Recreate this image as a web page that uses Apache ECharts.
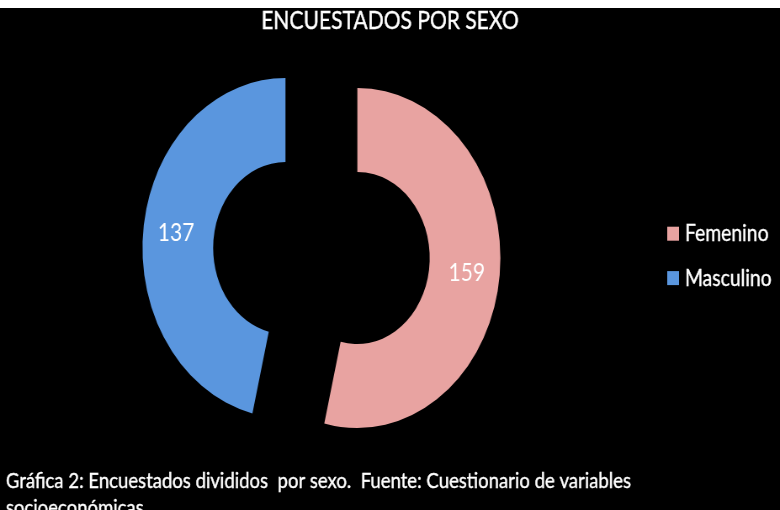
<!DOCTYPE html>
<html>
<head>
<meta charset="utf-8">
<script src="https://cdn.jsdelivr.net/npm/echarts@6/dist/echarts.min.js"></script>
<style>
  html, body { margin: 0; padding: 0; background: #ffffff; }
  #wrap { position: relative; width: 780px; height: 510px; overflow: hidden; background: #ffffff; }
  /* the chart is laid out wide and then narrowed, giving the condensed look */
  #chart { position: absolute; left: 0; top: 0; width: 927px; height: 510px;
           transform: scaleX(0.8414); transform-origin: 0 0; }
</style>
</head>
<body>
<div id="wrap"><div id="chart"></div></div>
<script>
// Respondents by sex
const categories = ['Femenino', 'Masculino'];
const counts = [159, 137];
const sliceColors = ['#E8A3A1', '#5A96DE'];

const titleText = 'ENCUESTADOS POR SEXO';
const captionText = 'Gráfica 2: Encuestados divididos  por sexo.  Fuente: Cuestionario de variables\nsocioeconómicas';

const FONT = 'Lato, "Open Sans", sans-serif';

const chart = echarts.init(document.getElementById('chart'), null, { renderer: 'canvas' });

chart.setOption({
  backgroundColor: 'transparent',
  animation: false,
  graphic: [
    { type: 'rect', z: -10, silent: true,
      shape: { x: 0, y: 8, width: 927, height: 502 },
      style: { fill: '#000000' } }
  ],
  title: [
    { text: titleText, left: 'center', top: 3,
      textStyle: { color: '#ffffff', fontFamily: FONT, fontSize: 25, fontWeight: 'normal',
                   textBorderColor: '#ffffff', textBorderWidth: 0.4 } },
    { text: captionText, left: 2, top: 462,
      textStyle: { color: '#ffffff', fontFamily: FONT, fontSize: 22, fontWeight: 'normal', lineHeight: 27,
                   textBorderColor: '#ffffff', textBorderWidth: 0.4 } }
  ],
  legend: {
    orient: 'vertical',
    left: 788, top: 217,
    itemWidth: 14, itemHeight: 14, itemGap: 21,
    icon: 'rect',
    data: categories,
    textStyle: { color: '#ffffff', fontFamily: FONT, fontSize: 23, padding: [0, 0, 0, 2],
                 textBorderColor: '#ffffff', textBorderWidth: 0.4 }
  },
  series: [{
    type: 'pie',
    center: [382, 253],
    radius: [86, 170],
    startAngle: 90,
    clockwise: true,
    selectedMode: 'multiple',
    selectedOffset: 43,
    avoidLabelOverlap: false,
    label: {
      show: true, position: 'inside',
      formatter: '{c}',
      color: '#ffffff', fontFamily: FONT, fontSize: 25
    },
    labelLine: { show: false },
    emphasis: { disabled: true },
    itemStyle: { borderWidth: 0 },
    data: categories.map((name, i) => ({
      name: name,
      value: counts[i],
      selected: true,
      itemStyle: { color: sliceColors[i] }
    }))
  }]
});
</script>
</body>
</html>
